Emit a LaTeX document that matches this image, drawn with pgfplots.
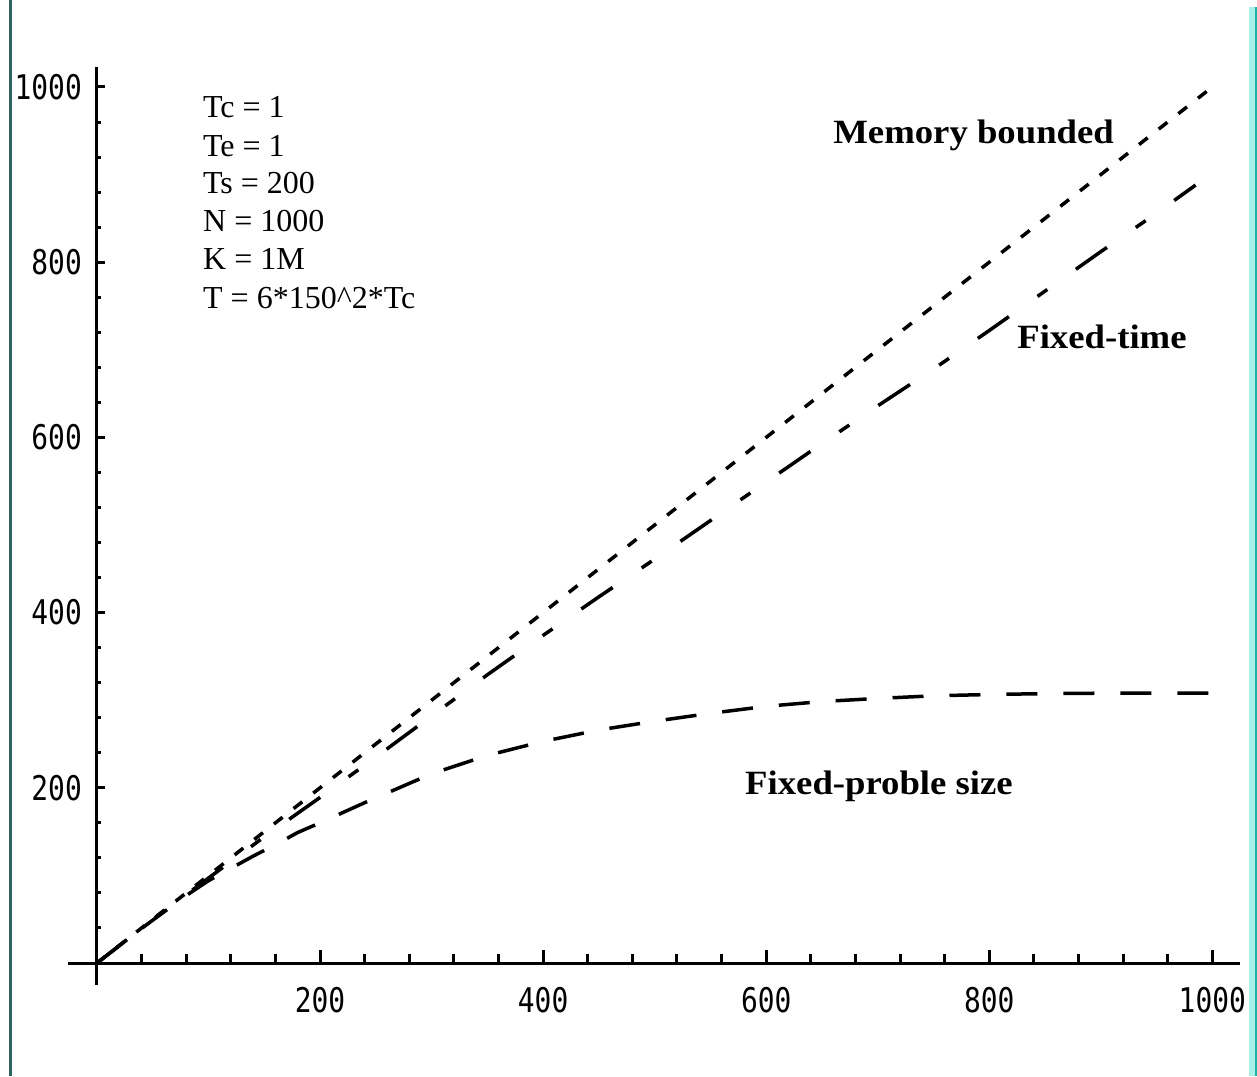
\documentclass[border=0pt]{standalone}
\usepackage{fontspec}
\usepackage{pgfplots}
\pgfplotsset{compat=1.18}
\setmainfont{Liberation Serif}
\newfontfamily\tickfont[FakeStretch=0.82]{DejaVu Sans Mono}
\definecolor{leftedge}{RGB}{45,100,95}
\definecolor{rightlight}{RGB}{168,240,232}
\definecolor{rightdark}{RGB}{30,180,165}

\begin{document}
\begin{tikzpicture}
% page = 1257 x 1076 px, 1px = 1pt, axis origin at (97,963) px
\useasboundingbox (-97pt,-113pt) rectangle (1160pt,963pt);
\fill[leftedge] (-88pt,-113pt) rectangle (-85pt,963pt);
\fill[rightlight] (1152pt,-113pt) rectangle (1158pt,956pt);
\fill[rightdark] (1158pt,-113pt) rectangle (1160pt,956pt);
\begin{axis}[
  anchor=origin, at={(0pt,0pt)},
  x=1.1153pt, y=0.876pt,
  xmin=-26, xmax=1025, ymin=-25, ymax=1023,
  axis lines=middle,
  axis line style={-, line width=3pt},
  xtick={200,400,600,800,1000}, ytick={200,400,600,800,1000},
  xticklabels={200,400,600,800,1000}, yticklabels={200,400,600,800,1000},
  minor xtick={40,80,...,1000}, minor ytick={40,80,...,1000},
  tick align=inside,
  every tick/.style={black, line width=3pt},
  x tick style={/pgfplots/major tick length=13pt, /pgfplots/minor tick length=9pt},
  y tick style={/pgfplots/major tick length=8pt, /pgfplots/minor tick length=4.5pt},
  ticklabel style={font=\fontsize{34}{34}\selectfont\tickfont, inner sep=0pt},
  xticklabel style={anchor=north, yshift=-24pt},
  yticklabel style={anchor=east, xshift=-15pt},
]
% Memory bounded
\addplot[black, line width=3.5pt, dash pattern=on 11pt off 14pt] coordinates {
  (0,0) (250,250) (500,500) (750,750) (995,995)};
% Fixed-time
\addplot[black, line width=3.5pt, dash pattern=on 38pt off 35pt on 12pt off 35pt] coordinates {
  (0,0) (50,49.5) (100,97) (150,144) (200,189) (250,235) (300,282) (350,329)
  (400,374) (450,418) (500,461) (550,505) (600,549) (650,593) (700,636)
  (750,678) (800,722) (850,767) (900,812) (950,856) (985,888)};
% Fixed-problem size
\addplot[black, line width=3.5pt, dash pattern=on 31pt off 26pt] coordinates {
  (0,0) (40,39.5) (80,77) (100,94) (120,108) (140,122) (160,135) (180,149)
  (200,160) (240,183) (280,205) (300,216) (350,237) (400,253) (450,266)
  (500,276) (550,285) (600,293) (650,298.5) (700,302) (750,305) (800,306.5)
  (850,307.5) (900,308) (950,308) (1000,308)};
\begin{scope}[every node/.style={anchor=base west, inner sep=0pt, font=\fontsize{32}{38}\selectfont}]
\node at (axis cs:95,965.2) {Tc = 1};
\node at (axis cs:95,921.2) {Te = 1};
\node at (axis cs:95,877.9) {Ts = 200};
\node at (axis cs:95,834.5) {N = 1000};
\node at (axis cs:95,791.1) {K = 1M};
\node at (axis cs:95,747.7) {T = 6*150\^{}2*Tc};
\end{scope}
\begin{scope}[every node/.style={anchor=base west, inner sep=0pt, font=\fontsize{34}{40}\selectfont\bfseries}]
\node at (axis cs:660,936) {\scalebox{1.08}[1]{Memory bounded}};
\node at (axis cs:825,702) {\scalebox{1.08}[1]{Fixed-time}};
\node at (axis cs:581,192) {\scalebox{1.08}[1]{Fixed-proble size}};
\end{scope}
\end{axis}
\end{tikzpicture}
\end{document}
